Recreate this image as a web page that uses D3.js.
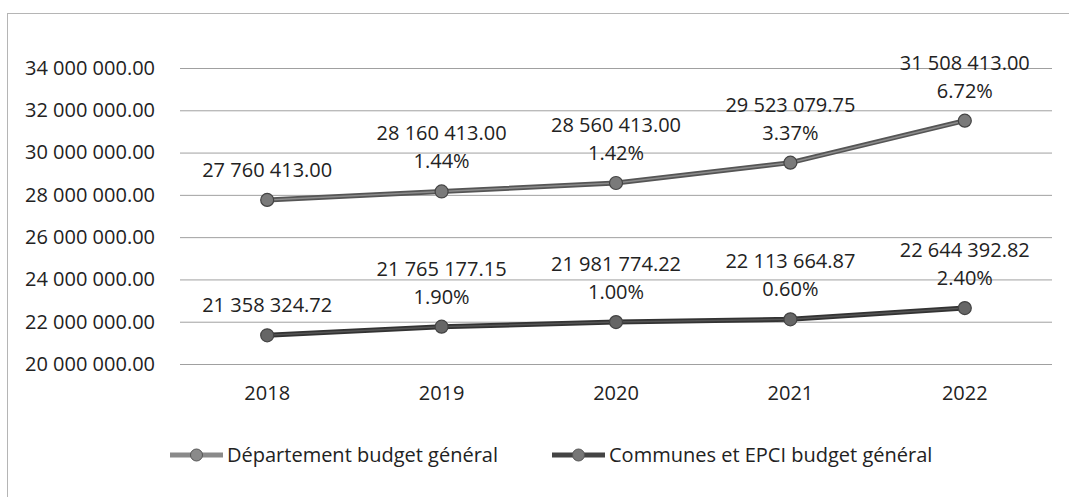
<!DOCTYPE html>
<html>
<head>
<meta charset="utf-8">
<script src="https://cdnjs.cloudflare.com/ajax/libs/d3/7.8.5/d3.min.js"></script>
<style>
  body { margin: 0; background: #fff; }
  svg text { font-family: "Open Sans", sans-serif; fill: #222; }
</style>
</head>
<body>
<div id="chart"></div>
<script>
const width = 1069;
const height = 497;
const fontSize = 20;

// Data
const years = ["2018", "2019", "2020", "2021", "2022"];
const departement = [27760413.00, 28160413.00, 28560413.00, 29523079.75, 31508413.00];
const communes = [21358324.72, 21765177.15, 21981774.22, 22113664.87, 22644392.82];
const departementPct = [null, "1.44%", "1.42%", "3.37%", "6.72%"];
const communesPct = [null, "1.90%", "1.00%", "0.60%", "2.40%"];
const yTicks = [20000000, 22000000, 24000000, 26000000, 28000000, 30000000, 32000000, 34000000];
const seriesNames = ["Département budget général", "Communes et EPCI budget général"];

let fmt = v => d3.format(",.2f")(v).replace(/,/g, " ");

let svg = d3.select("#chart").append("svg")
  .attr("width", width)
  .attr("height", height);

// chart frame
svg.append("rect")
  .attr("x", 7.5).attr("y", 13.5)
  .attr("width", width).attr("height", height)
  .attr("fill", "none")
  .attr("stroke", "#b5b5b5");

let x = d3.scaleBand().domain(years).range([180, 1052]);
let y = d3.scaleLinear().domain([20000000, 34000000]).range([364, 68]);
let cx = d => x(d) + x.bandwidth() / 2;

// Gridlines + y labels
let yAxis = d3.axisLeft(y).tickValues(yTicks).tickFormat(fmt).tickSize(-(1052 - 180)).tickPadding(25);
let ga = svg.append("g").attr("transform", "translate(180,0)").call(yAxis);
ga.select(".domain").remove();
ga.selectAll(".tick line").attr("stroke", "#a0a0a0").attr("stroke-width", 1);
ga.selectAll(".tick text").attr("font-size", fontSize).attr("fill", "#222")
  .style("font-family", "'Open Sans', sans-serif");

// x labels
let xAxis = d3.axisBottom(x).tickSize(0).tickPadding(0);
let gx = svg.append("g").attr("transform", "translate(0,385)").call(xAxis);
gx.select(".domain").remove();
gx.selectAll(".tick text").attr("font-size", fontSize).attr("fill", "#222")
  .style("font-family", "'Open Sans', sans-serif")
  .attr("dy", "0.75em");

let line = d3.line().x((d, i) => cx(years[i])).y(d => y(d));

let series = [
  { values: departement, pct: departementPct, stroke: "#555", inner: "#8c8c8c", marker: "#7a7a7a" },
  { values: communes, pct: communesPct, stroke: "#333", inner: "#555", marker: "#666" }
];

series.forEach(s => {
  svg.append("path")
    .datum(s.values)
    .attr("d", line)
    .attr("fill", "none")
    .attr("stroke", s.stroke)
    .attr("stroke-width", 5);
  svg.append("path")
    .datum(s.values)
    .attr("d", line)
    .attr("fill", "none")
    .attr("stroke", s.inner)
    .attr("stroke-width", 1.5);

  svg.selectAll(null)
    .data(s.values)
    .enter().append("circle")
    .attr("cx", (d, i) => cx(years[i]))
    .attr("cy", d => y(d))
    .attr("r", 6.5)
    .attr("fill", s.marker)
    .attr("stroke", "#444")
    .attr("stroke-width", 1.2);

  // data labels: value over optional percentage
  s.values.forEach((v, i) => {
    let px = cx(years[i]), py = y(v);
    let hasPct = s.pct[i] !== null;
    svg.append("text")
      .attr("x", px)
      .attr("y", hasPct ? py - 51 : py - 23)
      .attr("text-anchor", "middle")
      .attr("font-size", fontSize)
      .text(fmt(v));
    if (hasPct) {
      svg.append("text")
        .attr("x", px)
        .attr("y", py - 23)
        .attr("text-anchor", "middle")
        .attr("font-size", fontSize)
        .text(s.pct[i]);
    }
  });
});

// Legend
let legend = [
  { name: seriesNames[0], x: 170, stroke: "#8a8a8a", marker: "#8a8a8a" },
  { name: seriesNames[1], x: 552, stroke: "#444", marker: "#777" }
];
legend.forEach(l => {
  let g = svg.append("g").attr("transform", "translate(" + l.x + ",455)");
  g.append("line").attr("x1", 0).attr("x2", 53).attr("y1", 0).attr("y2", 0)
    .attr("stroke", l.stroke).attr("stroke-width", 5);
  g.append("circle").attr("cx", 26.5).attr("cy", 0).attr("r", 6)
    .attr("fill", l.marker).attr("stroke", "#555").attr("stroke-width", 1);
  g.append("text").attr("x", 57).attr("y", 0).attr("dy", "0.35em")
    .attr("font-size", fontSize).text(l.name);
});
</script>
</body>
</html>
